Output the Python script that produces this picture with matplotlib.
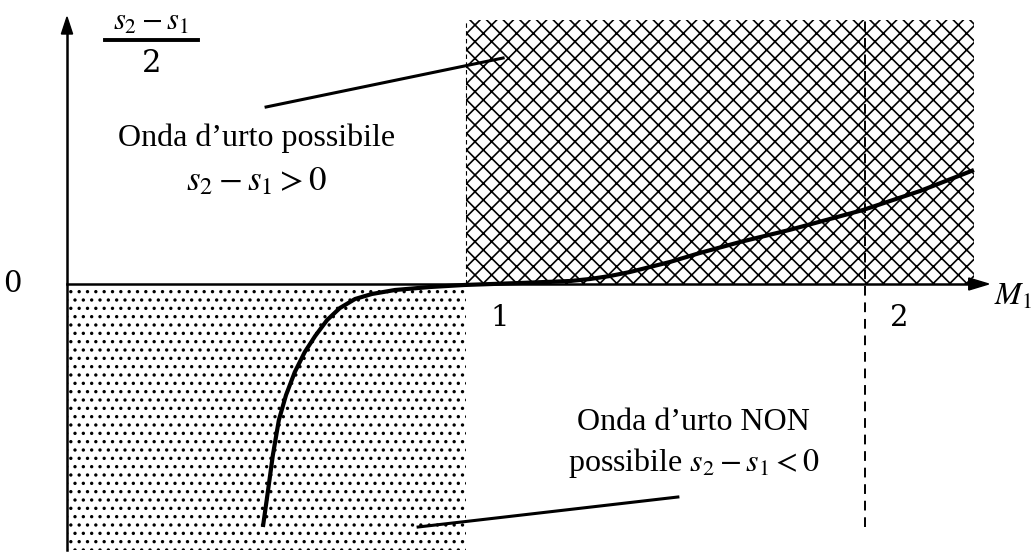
import matplotlib
matplotlib.use("Agg")
import matplotlib.pyplot as plt
from matplotlib.patches import Rectangle, FancyArrow

# Entropy change across a normal shock vs upstream Mach number (qualitative)
mach = [0.491, 0.504, 0.516, 0.531, 0.549, 0.571, 0.596, 0.622, 0.652, 0.684, 0.722,
        0.764, 0.822, 0.910, 0.995, 1.135, 1.261, 1.311, 1.361, 1.411, 1.461, 1.511,
        1.586, 1.687, 1.810, 1.912, 1.995, 2.138, 2.273]
delta_s = [-2.43, -2.06, -1.71, -1.36, -1.11, -0.88, -0.68, -0.52, -0.36, -0.24, -0.15,
           -0.10, -0.06, -0.03, -0.01, 0.01, 0.03, 0.05, 0.08, 0.12, 0.17, 0.22,
           0.31, 0.42, 0.54, 0.65, 0.74, 0.93, 1.14]

tick_labels = ["0", "1", "2"]
tick_values = [0, 1, 2]
label_possible = ["Onda d\u2019urto possibile", r"$s_2 - s_1 > 0$"]
label_impossible = ["Onda d\u2019urto NON", r"possibile $s_2 - s_1 < 0$"]

plt.rcParams["font.family"] = ["Liberation Serif", "DejaVu Serif"]
plt.rcParams["mathtext.fontset"] = "stix"
plt.rcParams["hatch.linewidth"] = 1.2

fig = plt.figure(figsize=(10.32, 5.53), dpi=100)
ax = fig.add_axes([0, 0, 1, 1])
ax.set_xlim(-67 / 399, (1032 - 67) / 399)
ax.set_ylim(-2.69, 2.84)
ax.axis("off")

# Supersonic region (shock possible): cross hatch
ax.add_patch(Rectangle((1, 0), 1.273, 2.64, facecolor="white", edgecolor="black",
                       hatch="xx", linewidth=0, zorder=1))
ax.plot([1, 1], [0, 2.64], color="black", lw=0.8, ls=(0, (4, 3)), zorder=2)
# Subsonic region (shock not possible): stipple
ax.add_patch(Rectangle((0, -2.66), 1, 2.66, facecolor="white", edgecolor="black",
                       hatch="..", linewidth=0, zorder=1))

# Dashed marker at M1 = 2
ax.plot([2, 2], [-2.43, 2.64], color="black", lw=1.4, ls=(0, (5, 3.5)), zorder=2)

# Axes with arrows
ax.plot([0, 0], [-2.66, 2.55], color="black", lw=1.8, zorder=4)
ax.add_patch(FancyArrow(0, 2.50, 0, 0.17, width=0, head_width=0.028, head_length=0.17,
                        length_includes_head=True, color="black", zorder=4))
ax.plot([0, 2.27], [0, 0], color="black", lw=1.8, zorder=4)
ax.add_patch(FancyArrow(2.25, 0, 0.06, 0, width=0, head_width=0.12, head_length=0.05,
                        length_includes_head=True, color="black", zorder=4))

# Curve
ax.plot(mach, delta_s, color="black", lw=3, solid_capstyle="butt",
        solid_joinstyle="round", zorder=5)

# Tick labels
fs_tick = 21
ax.text(-0.138, 0, tick_labels[0], ha="center", va="center", fontsize=fs_tick,
        family="DejaVu Serif", zorder=6)
for v, t in zip(tick_values[1:], tick_labels[1:]):
    ax.text(v + 0.085, -0.34, t, ha="center", va="center", fontsize=fs_tick,
            family="DejaVu Serif", zorder=6)
ax.text(2.371, -0.13, r"$M_1$", ha="center", va="center", fontsize=fs_tick + 2, zorder=6)

# Y-axis label as a stacked fraction
ax.text(0.211, 2.615, r"$s_2 - s_1$", ha="center", va="center", fontsize=22, zorder=6)
ax.plot([0.095, 0.328], [2.44, 2.44], color="black", lw=2.8, zorder=6)
ax.text(0.211, 2.20, "2", ha="center", va="center", fontsize=22,
        family="DejaVu Serif", zorder=6)

# Region annotations
fs_lab = 23
ax.text(0.476, 1.46, label_possible[0], ha="center", va="center", fontsize=fs_lab, zorder=6)
ax.text(0.476, 1.02, label_possible[1], ha="center", va="center", fontsize=fs_lab + 2, zorder=6)
ax.plot([0.499, 1.093], [1.77, 2.26], color="black", lw=2.2, zorder=6)

ax.text(1.571, -1.39, label_impossible[0], ha="center", va="center", fontsize=fs_lab, zorder=6)
ax.text(1.571, -1.79, label_impossible[1], ha="center", va="center", fontsize=fs_lab, zorder=6)
ax.plot([0.880, 1.531], [-2.43, -2.13], color="black", lw=2.2, zorder=6)

fig.savefig("out.png", dpi=100, facecolor="white")
